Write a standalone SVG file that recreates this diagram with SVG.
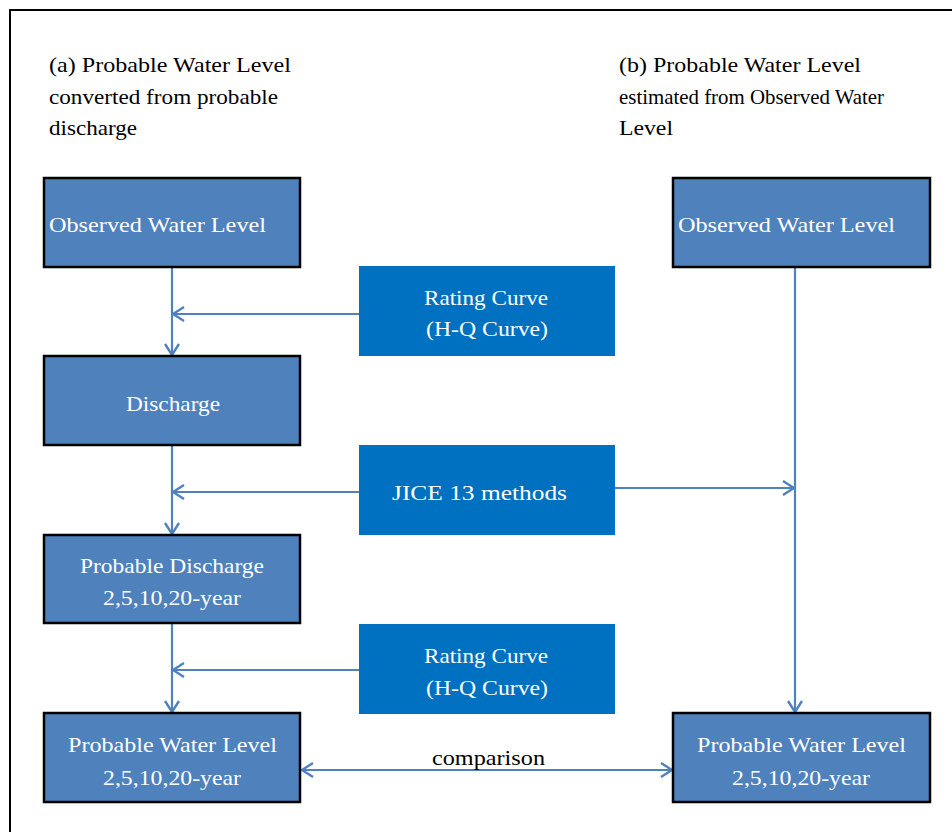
<svg xmlns="http://www.w3.org/2000/svg" width="952" height="832" viewBox="0 0 952 832">
<style>
.t{font-family:"Liberation Serif","Times New Roman",serif;font-size:22px;fill:#000}
.bt{font-family:"Liberation Serif","Times New Roman",serif;font-size:22px;fill:#fff}
.nb{fill:#4F81BD;stroke:#000;stroke-width:2.5}
.mb{fill:#0070C0}
.ln{stroke:#4F81BD;stroke-width:2.2;fill:none}
</style>
<defs>
<marker id="ah" viewBox="0 0 14 16" refX="13" refY="8" markerWidth="14" markerHeight="16" markerUnits="userSpaceOnUse" orient="auto-start-reverse">
<path d="M2,1 L13,8 L2,15" fill="none" stroke="#4F81BD" stroke-width="2.4"/>
</marker>
</defs>
<rect x="0" y="0" width="952" height="832" fill="#fff"/>
<path d="M10,842 V10 H962" fill="none" stroke="#000" stroke-width="2"/>
<text class="t" x="49" y="72" textLength="242" lengthAdjust="spacingAndGlyphs">(a) Probable Water Level</text>
<text class="t" x="49" y="104" textLength="229" lengthAdjust="spacingAndGlyphs">converted from probable</text>
<text class="t" x="49" y="135" textLength="88" lengthAdjust="spacingAndGlyphs">discharge</text>
<text class="t" x="619" y="72" textLength="242" lengthAdjust="spacingAndGlyphs">(b) Probable Water Level</text>
<text class="t" x="619" y="104" textLength="265" lengthAdjust="spacingAndGlyphs">estimated from Observed Water</text>
<text class="t" x="619" y="135" textLength="54" lengthAdjust="spacingAndGlyphs">Level</text>
<g id="connectors">
<line class="ln" x1="172" y1="267" x2="172" y2="355" marker-end="url(#ah)"/>
<line class="ln" x1="359" y1="314" x2="173" y2="314" marker-end="url(#ah)"/>
<line class="ln" x1="172" y1="445" x2="172" y2="534" marker-end="url(#ah)"/>
<line class="ln" x1="359" y1="492" x2="173" y2="492" marker-end="url(#ah)"/>
<line class="ln" x1="615" y1="488" x2="794" y2="488" marker-end="url(#ah)"/>
<line class="ln" x1="172" y1="623" x2="172" y2="712" marker-end="url(#ah)"/>
<line class="ln" x1="359" y1="670" x2="173" y2="670" marker-end="url(#ah)"/>
<line class="ln" x1="795" y1="267" x2="795" y2="712" marker-end="url(#ah)"/>
<line class="ln" x1="302" y1="770" x2="672" y2="770" marker-start="url(#ah)" marker-end="url(#ah)"/>
</g>
<text class="t" x="432" y="765" textLength="113" lengthAdjust="spacingAndGlyphs">comparison</text>
<g id="obs-a"><rect class="nb" x="44" y="178" width="256" height="89"/><text class="bt" x="49" y="232" textLength="217" lengthAdjust="spacingAndGlyphs">Observed Water Level</text></g>
<g id="discharge"><rect class="nb" x="44" y="356" width="256" height="89"/><text class="bt" x="126" y="411" textLength="94" lengthAdjust="spacingAndGlyphs">Discharge</text></g>
<g id="prob-discharge"><rect class="nb" x="44" y="535" width="256" height="88"/><text class="bt" x="80" y="573" textLength="184" lengthAdjust="spacingAndGlyphs">Probable Discharge</text><text class="bt" x="103" y="605" textLength="138" lengthAdjust="spacingAndGlyphs">2,5,10,20-year</text></g>
<g id="pwl-a"><rect class="nb" x="44" y="713" width="256" height="89"/><text class="bt" x="68" y="752" textLength="209" lengthAdjust="spacingAndGlyphs">Probable Water Level</text><text class="bt" x="103" y="785" textLength="138" lengthAdjust="spacingAndGlyphs">2,5,10,20-year</text></g>
<g id="obs-b"><rect class="nb" x="673" y="178" width="257" height="89"/><text class="bt" x="678" y="232" textLength="217" lengthAdjust="spacingAndGlyphs">Observed Water Level</text></g>
<g id="pwl-b"><rect class="nb" x="673" y="713" width="257" height="89"/><text class="bt" x="697" y="752" textLength="209" lengthAdjust="spacingAndGlyphs">Probable Water Level</text><text class="bt" x="732" y="785" textLength="138" lengthAdjust="spacingAndGlyphs">2,5,10,20-year</text></g>
<g id="rating1"><rect class="mb" x="359" y="266" width="256" height="90"/><text class="bt" x="424" y="305" textLength="124" lengthAdjust="spacingAndGlyphs">Rating Curve</text><text class="bt" x="426" y="336" textLength="122" lengthAdjust="spacingAndGlyphs">(H-Q Curve)</text></g>
<g id="jice"><rect class="mb" x="359" y="445" width="256" height="90"/><text class="bt" x="392" y="500" textLength="175" lengthAdjust="spacingAndGlyphs">JICE 13 methods</text></g>
<g id="rating2"><rect class="mb" x="359" y="624" width="256" height="90"/><text class="bt" x="424" y="663" textLength="124" lengthAdjust="spacingAndGlyphs">Rating Curve</text><text class="bt" x="426" y="695" textLength="122" lengthAdjust="spacingAndGlyphs">(H-Q Curve)</text></g>
</svg>
